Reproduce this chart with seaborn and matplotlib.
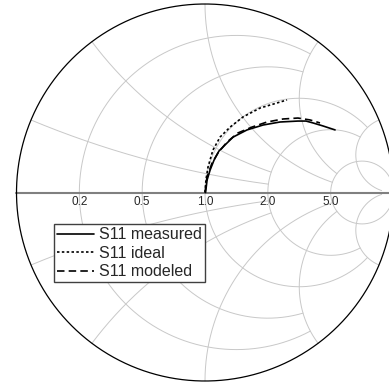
import numpy as np
import pandas as pd
import matplotlib
matplotlib.use('Agg')
import matplotlib.pyplot as plt
import seaborn as sns

# Smith chart grid: value of each resistance circle / reactance arc and where it stops
grid_values = [0.2, 0.5, 1.0, 2.0, 5.0]
grid_stops = [2.0, 2.0, 5.0, 5.0, 30.0]
tick_labels = ['0.2', '0.5', '1.0', '2.0', '5.0']

measured_re = [0.003, 0.011, 0.027, 0.048, 0.074, 0.106, 0.149, 0.223, 0.308, 0.398, 0.493, 0.536, 0.573, 0.626, 0.690]
measured_im = [0.000, 0.066, 0.119, 0.172, 0.220, 0.252, 0.294, 0.332, 0.358, 0.374, 0.379, 0.379, 0.369, 0.353, 0.332]

ideal_re = [0.000, 0.005, 0.016, 0.042, 0.080, 0.133, 0.202, 0.292, 0.382, 0.435]
ideal_im = [0.000, 0.066, 0.135, 0.225, 0.294, 0.347, 0.401, 0.448, 0.475, 0.491]

modeled_re = [0.000, 0.011, 0.037, 0.069, 0.117, 0.175, 0.249, 0.329, 0.414, 0.493, 0.557, 0.610]
modeled_im = [0.000, 0.082, 0.156, 0.210, 0.268, 0.316, 0.347, 0.374, 0.390, 0.395, 0.385, 0.369]

series_names = ['S11 measured', 'S11 ideal', 'S11 modeled']

df = pd.concat([
    pd.DataFrame({'re': measured_re, 'im': measured_im, 'series': series_names[0]}),
    pd.DataFrame({'re': ideal_re, 'im': ideal_im, 'series': series_names[1]}),
    pd.DataFrame({'re': modeled_re, 'im': modeled_im, 'series': series_names[2]}),
], ignore_index=True)

sns.set_style('white')
plt.rcParams['font.family'] = ['Liberation Sans', 'DejaVu Sans']

fig = plt.figure(figsize=(3.89, 3.85), dpi=100)
ax = fig.add_axes([0, 0, 1, 1])

grid_c = '#c8c8c8'
for v, lim in zip(grid_values, grid_stops):
    # resistance circle r = v, cut at |x| = lim
    xs = np.linspace(-lim, lim, 3000)
    z = v + 1j * xs
    g = (z - 1) / (z + 1)
    ax.plot(g.real, g.imag, color=grid_c, lw=0.7, zorder=1)
    # reactance arcs x = +-v, cut at r = lim
    rs = np.linspace(0, lim, 3000)
    for s in (1, -1):
        z = rs + 1j * s * v
        g = (z - 1) / (z + 1)
        ax.plot(g.real, g.imag, color=grid_c, lw=0.7, zorder=1)

# real axis and outer circle
ax.plot([-1, 1], [0, 0], color='#808080', lw=1.5, zorder=2)
t = np.linspace(0, 2 * np.pi, 721)
ax.plot(np.cos(t), np.sin(t), color='black', lw=0.9, zorder=2)

for v, lab in zip(grid_values, tick_labels):
    ax.text((v - 1) / (v + 1), -0.053, lab, ha='center', va='center',
            fontsize=8.5, color='#262626', zorder=2)

dash_map = {'S11 measured': '', 'S11 ideal': (1.5, 1.4), 'S11 modeled': (4.5, 2.5)}
sns.lineplot(data=df, x='re', y='im', style='series', style_order=series_names,
             dashes=dash_map, color='black', lw=1.2, sort=False, estimator=None,
             ax=ax, zorder=3)

handles, labels = ax.get_legend_handles_labels()
leg = ax.legend(handles, labels, loc='upper left', bbox_to_anchor=(0.139, 0.418),
                borderaxespad=0, fontsize=11.5, frameon=True, fancybox=False,
                edgecolor='#404040', framealpha=1, borderpad=0.2,
                handlelength=2.3, handletextpad=0.3, labelspacing=0.22)
leg.get_frame().set_linewidth(1.0)
leg.set_zorder(5)

ax.set_xlim(-205 / 188.5, 184 / 188.5)
ax.set_ylim(-192.5 / 188.5, 192.5 / 188.5)
ax.axis('off')

fig.savefig('out.png', dpi=100)
